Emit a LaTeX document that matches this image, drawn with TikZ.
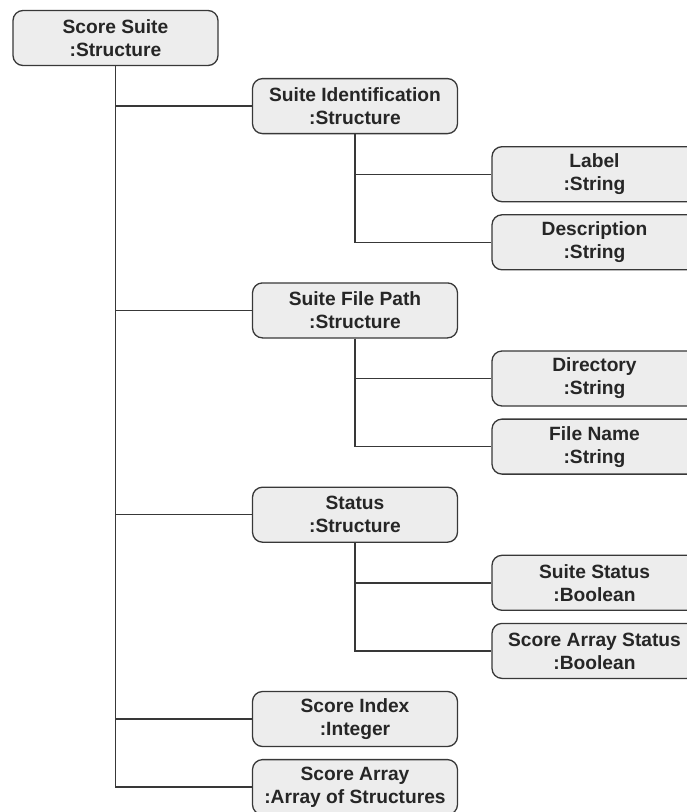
\documentclass[tikz,border=0pt]{standalone}
\usepackage{fontspec}
\setmainfont{Liberation Sans}
\begin{document}
\begin{tikzpicture}[x=1pt,y=-1pt,
  item/.style={draw=black!78, line width=1.3pt, fill=black!7, rounded corners=10pt,
    minimum width=205pt, minimum height=55pt, inner sep=0pt, align=center,
    font=\fontsize{19.2}{23}\selectfont\bfseries, text=black!85},
  link/.style={draw=black!78, line width=1.4pt}]
\useasboundingbox (0,0) rectangle (687,812);
\clip (0,0) rectangle (687,812);
\def\rowy#1{38+68.1*#1}
% root
\node[item] (root) at (115.5,{\rowy{0}}) {Score Suite\\:Structure};
% first level
\node[item] (sid)  at (355,{\rowy{1}})  {Suite Identification\\:Structure};
\node[item] (sfp)  at (355,{\rowy{4}})  {Suite File Path\\:Structure};
\node[item] (st)   at (355,{\rowy{7}})  {Status\\:Structure};
\node[item] (sidx) at (355,{\rowy{10}}) {Score Index\\:Integer};
\node[item] (sarr) at (355,{\rowy{11}}) {Score Array\\:Array of Structures};
% second level
\node[item] (lab)  at (594.5,{\rowy{2}}) {Label\\:String};
\node[item] (desc) at (594.5,{\rowy{3}}) {Description\\:String};
\node[item] (dir)  at (594.5,{\rowy{5}}) {Directory\\:String};
\node[item] (fn)   at (594.5,{\rowy{6}}) {File Name\\:String};
\node[item] (sst)  at (594.5,{\rowy{8}}) {Suite Status\\:Boolean};
\node[item] (sast) at (594.5,{\rowy{9}}) {Score Array Status\\:Boolean};
% connectors
\foreach \c in {sid,sfp,st,sidx,sarr} \draw[link] (root.south) |- (\c.west);
\foreach \c in {lab,desc} \draw[link] (sid.south) |- (\c.west);
\foreach \c in {dir,fn} \draw[link] (sfp.south) |- (\c.west);
\foreach \c in {sst,sast} \draw[link] (st.south) |- (\c.west);
\end{tikzpicture}
\end{document}
